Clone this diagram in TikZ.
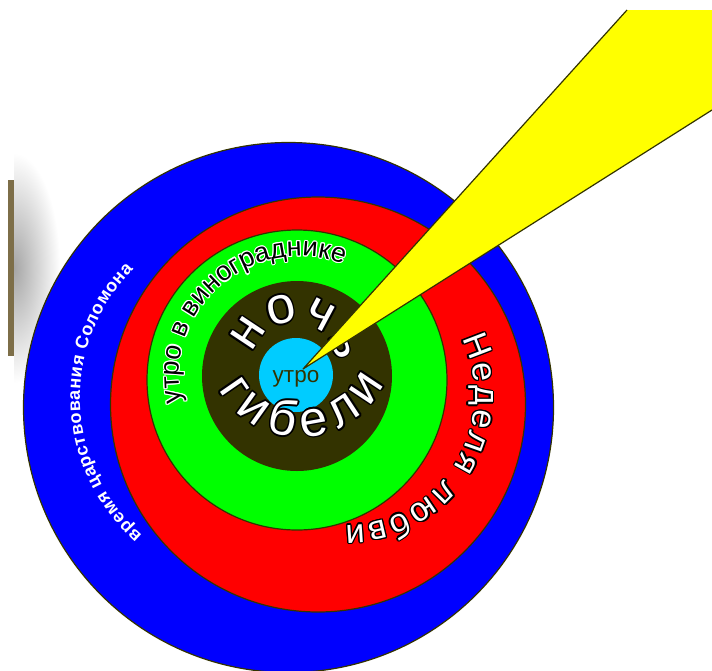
\documentclass[tikz,border=0pt]{standalone}
\usepackage{fontspec}
\setmainfont{Liberation Sans}
\usetikzlibrary{decorations.text}
\definecolor{rimc}{HTML}{333300}
\definecolor{ringblue}{HTML}{0000FF}
\definecolor{ringred}{HTML}{FF0000}
\definecolor{ringgreen}{HTML}{00FF00}
\definecolor{ringdark}{HTML}{333300}
\definecolor{ringcyan}{HTML}{00CCFF}
\definecolor{beam}{HTML}{FFFF00}
\definecolor{barc}{RGB}{125,110,72}
\newcommand\olw{1.2}
% #1 cx, #2 cy, #3 radius, #4 start angle, #5 end angle, #6 font, #7 text, #8 outline colour, #9 fill colour
\newcommand\ringtext[9]{%
  \foreach \ang in {0,30,...,330}{%
    \path[decorate,decoration={text along path,text={|#6|#7},text align={fit to path},text color=#8}]
      ([shift={(\ang:\olw)}]#1,#2) ++(#4:#3) arc[start angle=#4,end angle=#5,radius=#3];
  }%
  \path[decorate,decoration={text along path,text={|#6|#7},text align={fit to path},text color=#9}]
    (#1,#2) ++(#4:#3) arc[start angle=#4,end angle=#5,radius=#3];
}
\begin{document}
\begin{tikzpicture}[x=1pt,y=-1pt,rim/.style={draw=rimc,line width=1.2pt}]
\fill[white] (0,0) rectangle (712,670);
\clip (0,0) rectangle (712,670);
% bar with soft shadow
\begin{scope}
  \clip (14,150) rectangle (75,400);
  \shade[inner color=black!35,outer color=white] (14,268) ellipse[x radius=46,y radius=115];
\end{scope}
\fill[barc] (8,180) rectangle (14,356);
% rings
\filldraw[rim,fill=ringblue] (288.5,407.5) circle[radius=265];
\filldraw[rim,fill=ringred] (318,404.5) circle[radius=207.5];
\filldraw[rim,fill=ringgreen] (297,380) circle[radius=150];
\fill[ringdark] (297,376) circle[radius=95];
\fill[ringcyan] (296,375) circle[radius=37];
% texts along arcs
\path[decorate,decoration={text along path,text={|\fontsize{18}{20}\selectfont\bfseries|время царствования Соломона},text align={fit to path},text color=white}]
  (262,398) ++(131.2:182) arc[start angle=131.2,end angle=225.1,radius=182];
\renewcommand\olw{1.3}
\ringtext{346}{396}{129}{-26.4}{90.4}{\fontsize{34}{36}\selectfont}{Неделя любви}{black}{white}
\renewcommand\olw{1.1}
\ringtext{300}{377}{121}{168}{291}{\fontsize{27}{29}\selectfont}{утро в винограднике}{white}{black}
\renewcommand\olw{1.6}
\ringtext{294}{364}{42}{194}{357}{\fontsize{52}{54}\selectfont}{ночь}{black}{white}
\ringtext{300}{344}{93}{151}{25}{\fontsize{50}{52}\selectfont}{гибели}{black}{white}
\node[anchor=base,text=rimc,font=\fontsize{22.5}{24}\selectfont,inner sep=0pt] (morning) at (296,382) {утро};
% yellow beam
\fill[beam] (303,369) -- (627,10) -- (712,10) -- (712,110) -- cycle;
\draw[rimc,line width=1.2pt,line join=round] (627,10) -- (303,369) -- (712,110);
\end{tikzpicture}
\end{document}
